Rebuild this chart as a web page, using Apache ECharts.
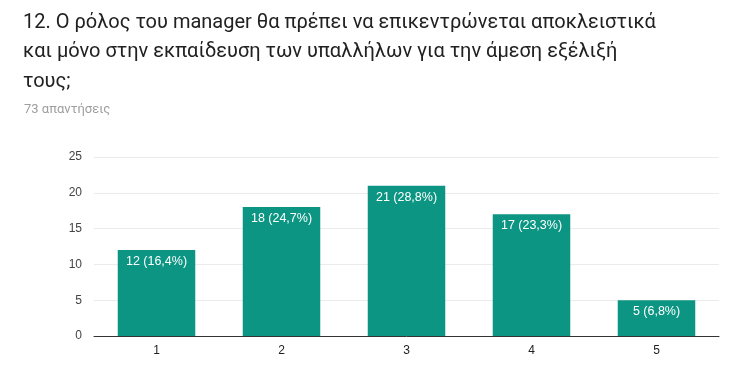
<!DOCTYPE html>
<html><head><meta charset="utf-8">
<script src="https://cdn.jsdelivr.net/npm/echarts@6/dist/echarts.min.js"></script>
<style>html,body{margin:0;padding:0;background:#fff}#c{width:738px;height:374px}</style>
</head><body><div id="c"></div>
<script>
const titleLines = ["12. Ο ρόλος του manager θα πρέπει να επικεντρώνεται αποκλειστικά", "και μόνο στην εκπαίδευση των υπαλλήλων για την άμεση εξέλιξή", "τους;"];
const subtitleText = "73 απαντήσεις";
const categories = ["1", "2", "3", "4", "5"];
const counts = [12, 18, 21, 17, 5];
const percents = ["16,4%", "24,7%", "28,8%", "23,3%", "6,8%"];

const chart = echarts.init(document.getElementById('c'), null, {renderer: 'canvas'});
chart.setOption({
  animation: false,
  backgroundColor: '#fff',
  title: [
    {text: titleLines.join('\n'), left: 23, top: 8, padding: 0,
     textStyle: {fontFamily: 'Roboto', fontSize: 20, fontWeight: 'normal', color: '#212121', lineHeight: 29.5}},
    {text: subtitleText, left: 24, top: 103, padding: 0,
     textStyle: {fontFamily: 'Roboto', fontSize: 13, fontWeight: 'normal', color: '#9e9e9e', lineHeight: 13}}
  ],
  grid: {left: 94, right: 19, top: 157, bottom: 38, containLabel: false},
  xAxis: {
    type: 'category', data: categories,
    axisLine: {lineStyle: {color: '#333', width: 1}},
    axisTick: {show: false},
    axisLabel: {color: '#222', fontFamily: 'Arial, Liberation Sans', fontSize: 12, margin: 9}
  },
  yAxis: {
    type: 'value', min: 0, max: 25, interval: 5,
    axisLine: {show: false}, axisTick: {show: false},
    splitLine: {lineStyle: {color: '#ebebeb'}},
    axisLabel: {color: '#444', fontFamily: 'Arial, Liberation Sans', fontSize: 12, margin: 12}
  },
  series: [{
    type: 'bar', data: counts, barCategoryGap: '38%',
    itemStyle: {color: '#0b9582'},
    label: {show: true, position: 'insideTop', distance: 5, color: '#fff',
      fontFamily: 'Arial, Liberation Sans', fontSize: 12.5,
      formatter: p => p.value + ' (' + percents[p.dataIndex] + ')'}
  }]
});
</script></body></html>
